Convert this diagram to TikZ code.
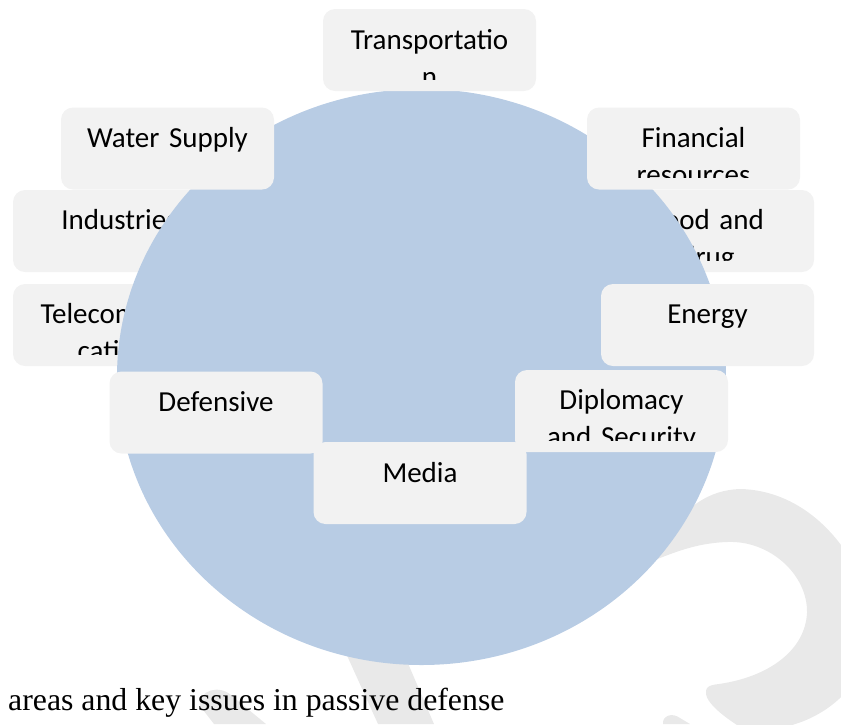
\documentclass[tikz,border=0pt]{standalone}
\usepackage{fontspec}
\setmainfont{Carlito}
\newfontfamily\captionfont{Liberation Serif}
\definecolor{hubblue}{HTML}{B8CCE4}
\definecolor{boxgray}{HTML}{F2F2F2}
\definecolor{markgray}{HTML}{E9E9E9}

\begin{document}
\begin{tikzpicture}[x=1pt,y=-1pt,
        areabox/.style={rectangle, rounded corners=12pt, fill=boxgray,
            minimum width=213pt, minimum height=82pt, inner sep=0pt},
        arealabel/.style={anchor=base, text width=200pt, align=center,
            inner sep=0pt, font=\fontsize{29}{37}\selectfont}]
        \clip (0,0) rectangle (841,724);

        % filigrane en fond
        \fill[markgray] (655,548)
        .. controls (685,505) and (710,490) .. (740,489)
        .. controls (795,490) and (845,530) .. (870,600)
        .. controls (885,680) and (820,735) .. (745,730)
        .. controls (725,718) and (704,702) .. (706,691)
        .. controls (707,684) and (715,685) .. (725,683)
        .. controls (770,675) and (805,650) .. (807,613)
        .. controls (808,575) and (770,540) .. (727,542)
        .. controls (700,543) and (680,550) .. (655,560) -- cycle;
        \fill[markgray] (340,640) -- (398,640) -- (434,724) -- (378,724) -- cycle;
        \fill[markgray] (200,706)
        .. controls (198,690) and (220,684) .. (232,696)
        -- (266,724) -- (214,724) -- cycle;
        \fill[markgray] (663,724)
        .. controls (662,716) and (672,712) .. (680,718)
        -- (690,724) -- cycle;

        % cases sous le disque
        \node[areabox] (industries) at (119.5,231) {};
        \node[areabox] (food) at (707.5,231) {};
        \node[areabox] (telecom) at (119.5,325) {};
        \begin{scope}
            \clip (industries.north west) rectangle ([yshift=12pt]industries.south east);
            \node[arealabel] (industrieslabel) at ([yshift=-40pt]industries.north) {Industries};
        \end{scope}
        \begin{scope}
            \clip (food.north west) rectangle ([yshift=12pt]food.south east);
            \node[arealabel] (foodlabel) at ([yshift=-40pt]food.north) {Food and\\drug};
        \end{scope}
        \begin{scope}
            \clip (telecom.north west) rectangle ([yshift=12pt]telecom.south east);
            \node[arealabel] (telecomlabel) at ([yshift=-40pt]telecom.north) {Telecommuni\\cations};
        \end{scope}

        % le disque central
        \fill[hubblue] (421.5,377) ellipse [x radius=304.5, y radius=288];

        % cases sur le disque
        \node[areabox] (transport) at (429.5,50) {};
        \node[areabox] (water) at (167.5,148.5) {};
        \node[areabox] (financial) at (693.5,148.5) {};
        \node[areabox] (energy) at (707.5,325) {};
        \node[areabox] (media) at (420,483) {};
        \node[areabox] (defensive) at (216,412.5) {};
        \node[areabox] (diplomacy) at (621.5,411) {};
        \begin{scope}
            \clip (transport.north west) rectangle ([yshift=12pt]transport.south east);
            \node[arealabel] (transportlabel) at ([yshift=-41pt]transport.north) {Transportatio\\n};
        \end{scope}
        \begin{scope}
            \clip (water.north west) rectangle ([yshift=12pt]water.south east);
            \node[arealabel] (waterlabel) at ([yshift=-40pt]water.north) {Water Supply};
        \end{scope}
        \begin{scope}
            \clip (financial.north west) rectangle ([yshift=12pt]financial.south east);
            \node[arealabel] (financiallabel) at ([yshift=-40pt]financial.north) {Financial\\resources};
        \end{scope}
        \begin{scope}
            \clip (energy.north west) rectangle ([yshift=12pt]energy.south east);
            \node[arealabel] (energylabel) at ([yshift=-40pt]energy.north) {Energy};
        \end{scope}
        \begin{scope}
            \clip (media.north west) rectangle ([yshift=12pt]media.south east);
            \node[arealabel] (medialabel) at ([yshift=-41pt]media.north) {Media};
        \end{scope}
        \begin{scope}
            \clip (defensive.north west) rectangle ([yshift=12pt]defensive.south east);
            \node[arealabel] (defensivelabel) at ([yshift=-40pt]defensive.north) {Defensive};
        \end{scope}
        \begin{scope}
            \clip (diplomacy.north west) rectangle ([yshift=12pt]diplomacy.south east);
            \node[arealabel] (diplomacylabel) at ([yshift=-40pt]diplomacy.north) {Diplomacy\\and Security};
        \end{scope}

        % legende
        \node[anchor=base west, inner sep=0pt, font=\captionfont\fontsize{31.8}{36}\selectfont]
            (caption) at (8,710) {areas and key issues in passive defense};
    \end{tikzpicture}
\end{document}
